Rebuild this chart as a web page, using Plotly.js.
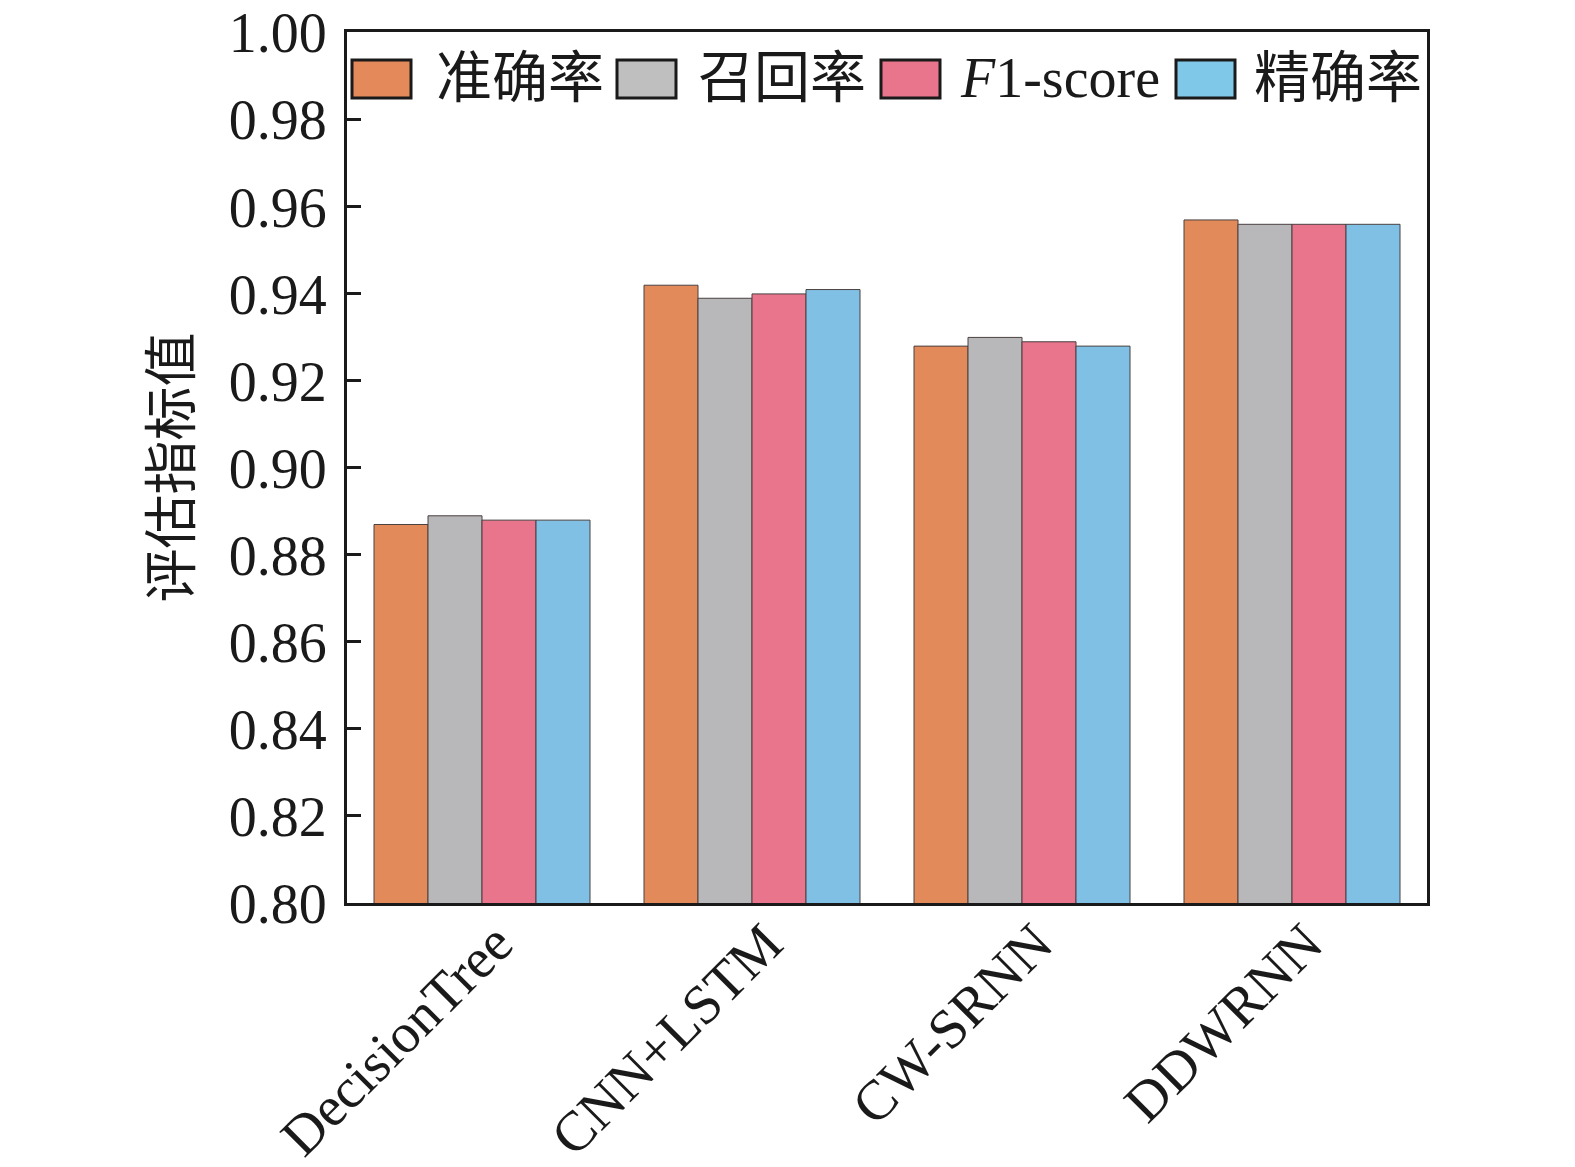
<!DOCTYPE html>
<html>
<head>
<meta charset="utf-8">
<script src="https://cdn.plot.ly/plotly-3.0.1.min.js"></script>
<style>
  html, body { margin: 0; padding: 0; background: #fff; }
  #chart { width: 1575px; height: 1167px; }
</style>
</head>
<body>
<div id="chart"></div>
<script>
// data
const models = ['DecisionTree', 'CNN+LSTM', 'CW-SRNN', 'DDWRNN'];
const seriesNames = ['准确率', '召回率', '<i>F</i>1-score', '精确率'];
const accuracy = [0.887, 0.942, 0.928, 0.957];
const recall = [0.889, 0.939, 0.930, 0.956];
const f1 = [0.888, 0.940, 0.929, 0.956];
const precision = [0.888, 0.941, 0.928, 0.956];
const yTicks = [0.80, 0.82, 0.84, 0.86, 0.88, 0.90, 0.92, 0.94, 0.96, 0.98, 1.00];

const barColors = ['#E28A5A', '#B8B7B9', '#E8758B', '#80C0E4'];
const legendColors = ['#E3895A', '#BFBFBF', '#E8758B', '#80C8E8'];
const seriesValues = [accuracy, recall, f1, precision];

const FONT = '"Liberation Serif", "Times New Roman", "Noto Sans CJK SC", serif';

// plot area in pixels
const PL = 347, PR = 1427, PT = 32, PB = 903;
const px = x => (x - PL) / (PR - PL);
const py = y => (PB - y) / (PB - PT);

const traces = seriesValues.map((vals, i) => ({
    type: 'bar',
    x: models,
    y: vals,
    name: seriesNames[i],
    marker: {
        color: barColors[i],
        line: { color: '#4a4040', width: 1 }
    },
    hoverinfo: 'x+y'
}));

// legend drawn by hand so the swatches can be as big as in the original
const boxLeft = [352, 617, 881, 1176];
const textLeft = [434, 696, 958, 1252];
const shapes = [];
const annotations = [];
seriesNames.forEach((name, i) => {
    shapes.push({
        type: 'rect', xref: 'paper', yref: 'paper',
        x0: px(boxLeft[i]), x1: px(boxLeft[i] + 59),
        y0: py(98), y1: py(60),
        fillcolor: legendColors[i],
        line: { color: '#1a1a1a', width: 3 }
    });
    annotations.push({
        xref: 'paper', yref: 'paper',
        x: px(textLeft[i]), y: py(78),
        xanchor: 'left', yanchor: 'middle',
        text: name, showarrow: false,
        font: { family: FONT, size: 56, color: '#1a1a1a' }
    });
});

const layout = {
    width: 1575,
    height: 1167,
    paper_bgcolor: '#fff',
    plot_bgcolor: '#fff',
    margin: { l: PL, r: 1575 - PR, t: PT, b: 1167 - PB },
    barmode: 'group',
    bargap: 0.2,
    bargroupgap: 0,
    showlegend: false,
    font: { family: FONT, color: '#1a1a1a' },
    xaxis: {
        type: 'category',
        range: [-0.5, 3.5],
        showline: true, linecolor: '#1a1a1a', linewidth: 3, mirror: true,
        ticks: '',
        tickangle: -45,
        ticklabelstandoff: -18,
        ticklabelshift: 14,
        tickfont: { family: FONT, size: 56, color: '#1a1a1a' },
        showgrid: false, zeroline: false
    },
    yaxis: {
        range: [0.8, 1.0002],
        tickvals: yTicks,
        tickformat: '.2f',
        showline: true, linecolor: '#1a1a1a', linewidth: 3, mirror: true,
        ticks: 'inside', ticklen: 14, tickwidth: 3, tickcolor: '#1a1a1a',
        ticklabelstandoff: 6,
        tickfont: { family: FONT, size: 56, color: '#1a1a1a' },
        showgrid: false, zeroline: false,
        title: {
            text: '评估指标值',
            font: { family: FONT, size: 54, color: '#1a1a1a' },
            standoff: 20
        }
    },
    shapes: shapes,
    annotations: annotations
};

Plotly.newPlot('chart', traces, layout, { displayModeBar: false, staticPlot: true });
</script>
</body>
</html>
